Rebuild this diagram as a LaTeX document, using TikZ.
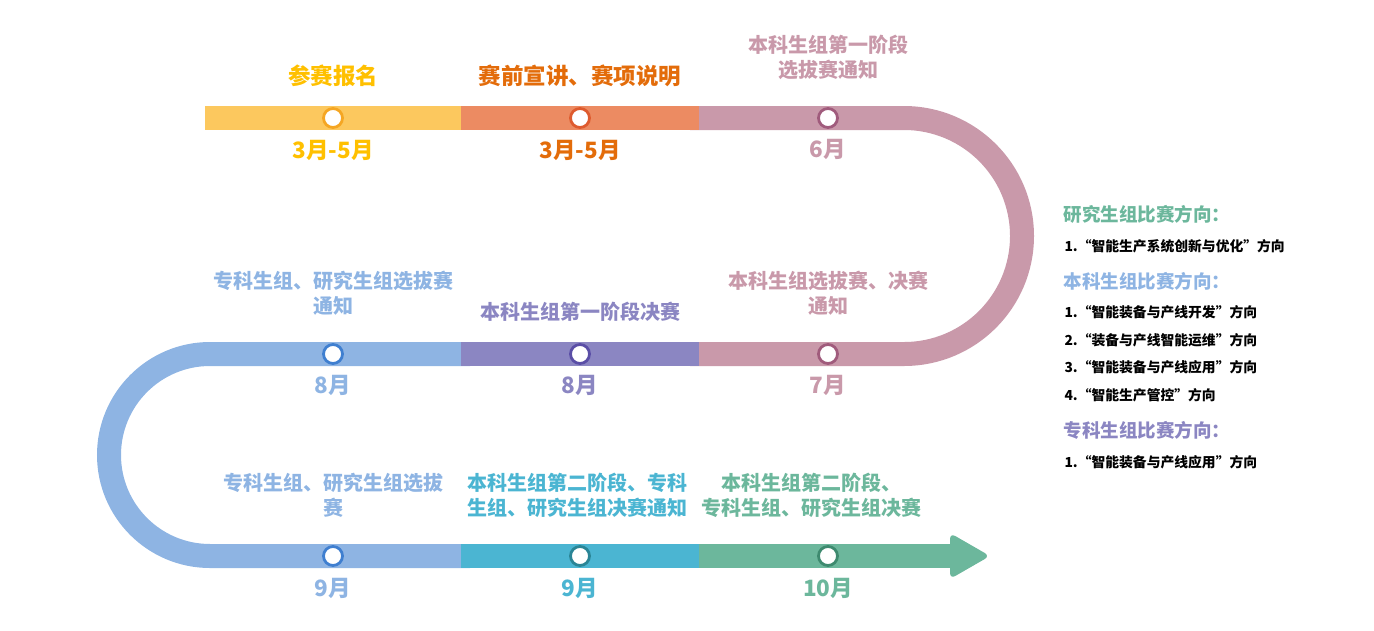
\documentclass[tikz,border=0pt]{standalone}
\usepackage{fontspec}
\setmainfont{Noto Sans CJK SC}
\definecolor{yelB}{HTML}{FCC85E}
\definecolor{yelT}{HTML}{FFC000}
\definecolor{yelD}{HTML}{F5A623}
\definecolor{orgB}{HTML}{EC8B62}
\definecolor{orgT}{HTML}{E36C0A}
\definecolor{orgD}{HTML}{DE5B2E}
\definecolor{pnkB}{HTML}{C999AA}
\definecolor{pnkD}{HTML}{A05B7C}
\definecolor{bluB}{HTML}{8EB4E3}
\definecolor{bluD}{HTML}{3F7FD0}
\definecolor{purB}{HTML}{8B86C2}
\definecolor{purD}{HTML}{5A4EA6}
\definecolor{cynB}{HTML}{4BB5D2}
\definecolor{cynD}{HTML}{2A8596}
\definecolor{grnB}{HTML}{6CB79C}
\definecolor{grnD}{HTML}{3E8A6F}
\begin{document}
\begin{tikzpicture}[x=1pt,y=-1pt,
  band/.style={line width=24pt},
  dot/.style={circle, fill=white, minimum size=19pt, inner sep=0pt, line width=2.8pt},
  ttl/.style={font=\bfseries\fontsize{20}{25}\selectfont, align=center},
  bigttl/.style={font=\bfseries\fontsize{22.5}{25}\selectfont, align=center},
  mon/.style={font=\bfseries\fontsize{22.5}{25}\selectfont},
  hdr/.style={font=\bfseries\fontsize{18.5}{20}\selectfont, anchor=west},
  itm/.style={font=\bfseries\fontsize{13.8}{16}\selectfont, anchor=west, text=black}]
\useasboundingbox (0,0) rectangle (1374,630);
% bends
\draw[band, pnkB] (690,118) -- (904,118) arc[start angle=-90,end angle=90,radius=118] -- (690,354);
\draw[band, bluB] (470,354) -- (210,354) arc[start angle=-90,end angle=-270,radius=101] -- (470,556);
% straight segments
\fill[yelB] (205,106) rectangle (461,130);
\fill[orgB] (461,106) rectangle (699,130);
\fill[purB] (461,342) rectangle (699,366);
\fill[cynB] (461,544) rectangle (699,568);
\fill[grnB] (699,544) rectangle (952,568);
\fill[grnB, rounded corners=6pt] (950,533) -- (990,556) -- (950,579) -- cycle;
% dots
\node[dot, draw=yelD] (d1) at (333,118) {};
\node[dot, draw=orgD] (d2) at (580,118) {};
\node[dot, draw=pnkD] (d3) at (828,118) {};
\node[dot, draw=bluD] (d4) at (333,354) {};
\node[dot, draw=purD] (d5) at (580,354) {};
\node[dot, draw=pnkD] (d6) at (828,354) {};
\node[dot, draw=bluD] (d7) at (333,556) {};
\node[dot, draw=cynD] (d8) at (580,556) {};
\node[dot, draw=grnD] (d9) at (828,556) {};
% titles row 1
\node[bigttl, text=yelT] (t1) at (333,76) {参赛报名};
\node[bigttl, text=orgT] (t2) at (580,76) {赛前宣讲、赛项说明};
\node[ttl, text=pnkB] (t3) at (828,57) {本科生组第一阶段\\选拔赛通知};
\node[mon, text=yelT] (m1) at (333,150) {3月-5月};
\node[mon, text=orgT] (m2) at (580,150) {3月-5月};
\node[mon, text=pnkB] (m3) at (828,149) {6月};
% row 2
\node[ttl, text=bluB] (t4) at (333,293) {专科生组、研究生组选拔赛\\通知};
\node[ttl, text=purB] (t5) at (580,312) {本科生组第一阶段决赛};
\node[ttl, text=pnkB] (t6) at (828,293) {本科生组选拔赛、决赛\\通知};
\node[mon, text=bluB] (m4) at (333,385) {8月};
\node[mon, text=purB] (m5) at (580,385) {8月};
\node[mon, text=pnkB] (m6) at (828,385) {7月};
% row 3
\node[ttl, text=bluB] (t7) at (333,495) {专科生组、研究生组选拔\\赛};
\node[ttl, text=cynB] (t8) at (577,495) {本科生组第二阶段、专科\\生组、研究生组决赛通知};
\node[ttl, text=grnB] (t9) at (811,495) {本科生组第二阶段、\\专科生组、研究生组决赛};
\node[mon, text=bluB] (m7) at (333,588) {9月};
\node[mon, text=cynB] (m8) at (580,588) {9月};
\node[mon, text=grnB] (m9) at (828,588) {10月};
% right panel
\node[hdr, text=grnB] (h1) at (1060,214) {研究生组比赛方向：};
\node[itm] (i1) at (1061,246) {1.“智能生产系统创新与优化”方向};
\node[hdr, text=bluB] (h2) at (1060,281) {本科生组比赛方向：};
\node[itm] (i2) at (1061,312) {1.“智能装备与产线开发”方向};
\node[itm] (i3) at (1061,340) {2.“装备与产线智能运维”方向};
\node[itm] (i4) at (1061,367) {3.“智能装备与产线应用”方向};
\node[itm] (i5) at (1061,395) {4.“智能生产管控”方向};
\node[hdr, text=purB] (h3) at (1060,430) {专科生组比赛方向：};
\node[itm] (i6) at (1061,462) {1.“智能装备与产线应用”方向};
\end{tikzpicture}
\end{document}
